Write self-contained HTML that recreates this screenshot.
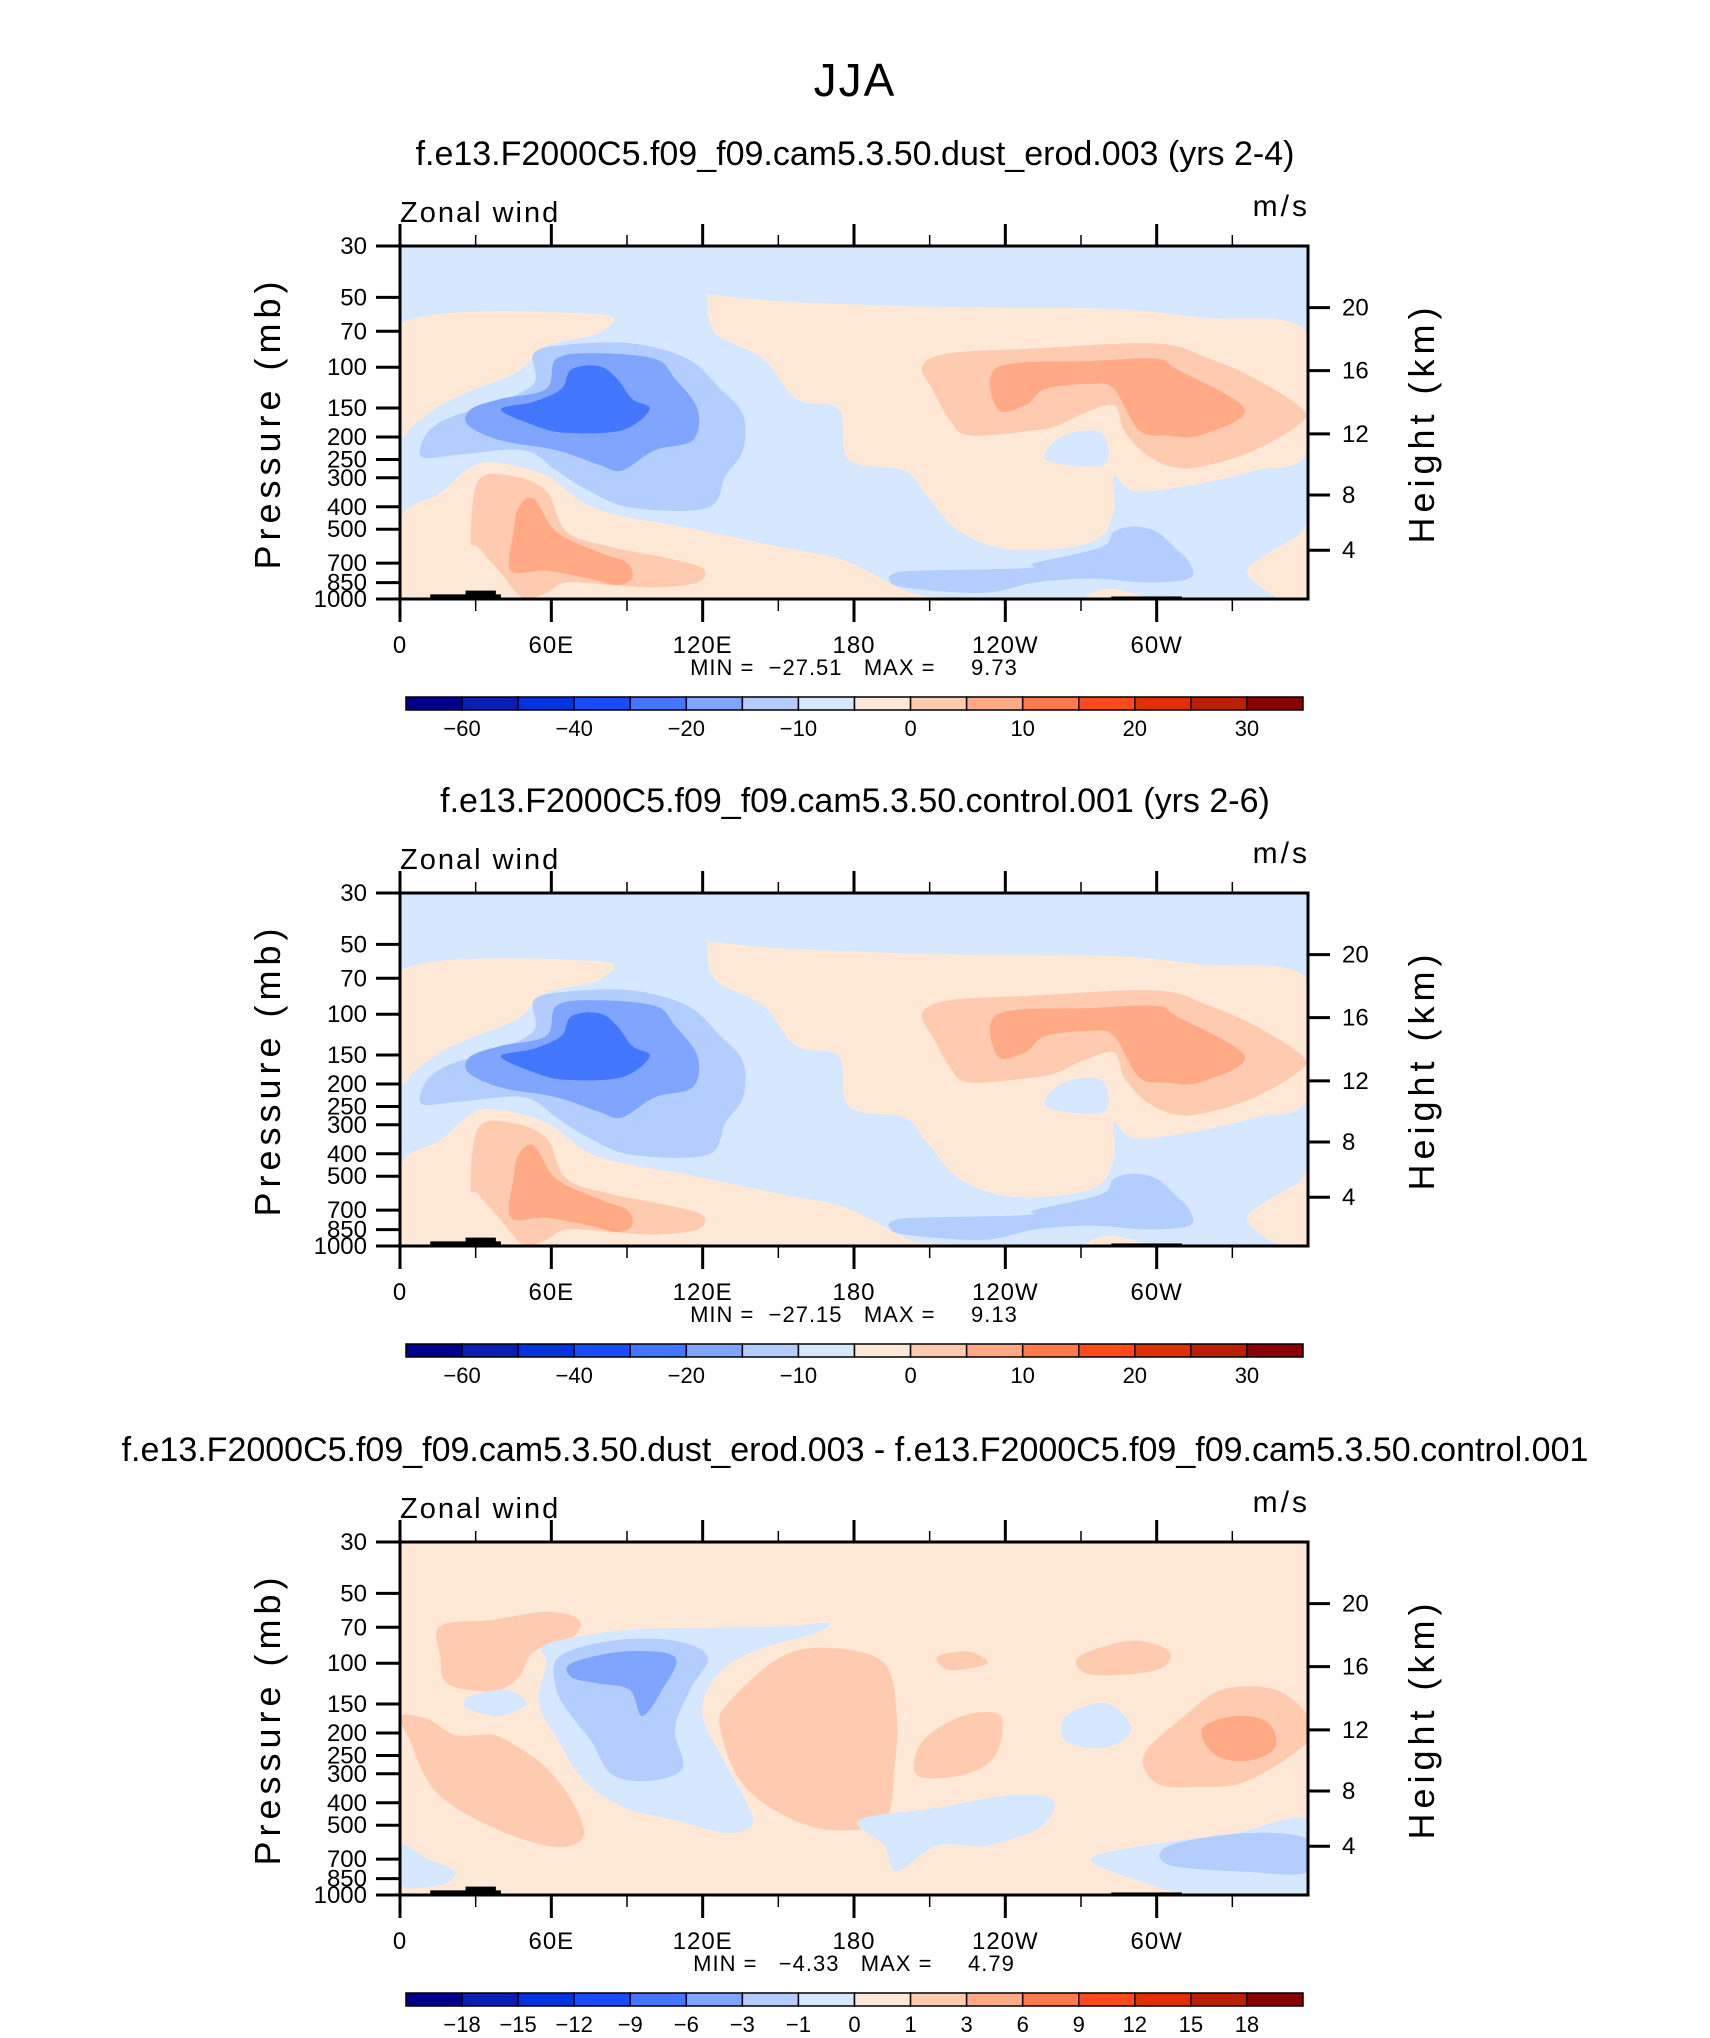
<!DOCTYPE html>
<html><head><meta charset="utf-8"><style>
html,body{margin:0;padding:0;background:#fff;}
svg{display:block;font-family:"Liberation Sans",sans-serif;}
</style></head><body>
<svg id="fig" width="1710" height="2038" viewBox="0 0 1710 2038" xmlns="http://www.w3.org/2000/svg">
<text x="855" y="96" font-size="46" text-anchor="middle" fill="#000" letter-spacing="2">JJA</text>
</svg>
<script>
// ---------- data ----------
const lonTicks = [0, 60, 120, 180, 240, 300];
const lonTickLabels = ["0", "60E", "120E", "180", "120W", "60W"];
const lonMinorTicks = [30, 90, 150, 210, 270, 330];
const pTicks = [30, 50, 70, 100, 150, 200, 250, 300, 400, 500, 700, 850, 1000];
const heightTicks = [4, 8, 12, 16, 20];
const heightTickPressure = [616, 356, 194, 103.5, 55.3];
const panelTitles = [
  "f.e13.F2000C5.f09_f09.cam5.3.50.dust_erod.003 (yrs 2-4)",
  "f.e13.F2000C5.f09_f09.cam5.3.50.control.001 (yrs 2-6)",
  "f.e13.F2000C5.f09_f09.cam5.3.50.dust_erod.003 - f.e13.F2000C5.f09_f09.cam5.3.50.control.001"
];
const panelMin = [-27.51, -27.15, -4.33];
const panelMax = [9.73, 9.13, 4.79];
const cbColors = ["#00008b","#0a1fb0","#0033e0","#1a4cff","#4477ff","#7fa5ff","#b3cdff","#d5e8ff",
                  "#ffe9d6","#ffcbb0","#ffaa85","#ff7a4a","#ff4a1a","#e03000","#b82000","#8b0000"];
const cbLabelsAbs = ["", "-60", "", "-40", "", "-20", "", "-10", "", "0", "", "10", "", "20", "", "30", ""];
const cbLabelsDiff = ["", "-18", "-15", "-12", "-9", "-6", "-3", "-1", "0", "1", "3", "6", "9", "12", "15", "18", ""];

// contour regions: [lon, pressure(hPa)] with colour index into cbColors
const absUpperLeftWarm = [[0,65],[78,59],[79,71],[58,81],[47,104],[27,128],[16,146],[6,175],[0,187]];
const absUpperWarm = [[122,50],[125,71],[144,92],[157,137],[174,152],[178,251],[200,279],[209,359],[222,513],[243,612],[274,569],[283,420],[283,294],[291,342],[313,324],[339,279],[360,228],[360,71],[317,61],[280,56],[213,55],[151,52],[125,49]];
const absPocket = [[256,251],[263,197],[278,192],[279,264]];
const absLowerWarm = [[0,451],[16,350],[27,275],[37,257],[58,294],[78,410],[115,496],[151,598],[176,680],[202,941],[213,1000],[0,1000]];
const absCornerWarm = [[336,774],[344,637],[357,525],[360,464],[360,1000],[349,1000]];
const absBottomWarm = [[272,1000],[280,905],[290,941],[295,1000]];
const absLowWarm2 = [[31,309],[44,294],[58,342],[66,513],[84,598],[105,663],[120,736],[118,848],[101,892],[84,870],[66,848],[58,941],[49,992],[40,774],[31,598],[28,554]];
const absUpWarm2 = [[207,99],[218,87],[252,83],[300,79],[321,92],[339,112],[358,152],[356,178],[339,228],[321,264],[308,272],[296,239],[287,187],[283,146],[270,160],[261,178],[252,187],[226,197],[218,169],[211,124]];
const absLowWarm3 = [[47,404],[53,369],[62,513],[79,629],[90,698],[92,816],[86,870],[75,816],[58,755],[44,755],[45,513]];
const absUpWarm3 = [[237,100],[274,94],[300,92],[308,102],[335,152],[317,197],[304,197],[293,187],[283,124],[274,118],[256,124],[248,146],[237,152]];
const absJet1 = [[53,87],[66,80],[92,79],[114,92],[127,124],[136,160],[136,228],[129,294],[122,404],[92,404],[75,342],[62,279],[49,228],[23,239],[9,245],[9,207],[14,178],[23,160],[36,146],[53,118]];
const absJet2 = [[62,92],[77,87],[101,92],[109,112],[118,152],[116,207],[101,228],[88,279],[79,264],[62,228],[40,207],[27,178],[28,152],[40,137],[58,124]];
const absJet3 = [[68,102],[79,99],[86,112],[92,137],[99,152],[88,187],[66,192],[53,178],[40,152],[53,141],[64,124]];
const absLowCold = [[196,774],[205,755],[248,736],[252,698],[278,598],[283,513],[291,487],[300,513],[308,612],[313,698],[313,816],[296,848],[274,816],[252,848],[231,941],[200,892],[194,826]];

const absRegions = [
  [8, absUpperLeftWarm],[8, absUpperWarm],[7, absPocket],[8, absLowerWarm],[8, absCornerWarm],[8, absBottomWarm],
  [9, absLowWarm2],[9, absUpWarm2],[10, absLowWarm3],[10, absUpWarm3],
  [6, absJet1],[5, absJet2],[4, absJet3],[6, absLowCold]
];
const diffRegions = [
  [9, [[16,69],[37,65],[58,60],[71,65],[68,78],[53,89],[47,115],[37,132],[19,123],[16,94]]],
  [9, [[0,169],[11,174],[22,204],[37,204],[47,231],[58,283],[68,389],[73,540],[68,612],[58,612],[42,540],[22,420],[11,322],[4,216]]],
  [9, [[130,149],[151,94],[171,86],[192,100],[197,169],[196,283],[192,476],[171,525],[151,446],[135,322],[127,192]]],
  [9, [[207,218],[223,169],[238,169],[236,251],[223,304],[205,304]]],
  [9, [[295,248],[311,169],[326,130],[347,130],[360,169],[360,218],[336,322],[316,342],[300,330]]],
  [9, [[269,94],[290,80],[305,89],[300,107],[274,112]]],
  [9, [[213,94],[225,89],[233,100],[218,107]]],
  [10, [[318,192],[331,169],[344,180],[347,231],[336,264],[323,248]]],
  [7, [[58,83],[89,72],[130,70],[156,69],[170,67],[165,74],[140,89],[125,115],[120,169],[130,283],[140,476],[130,540],[109,476],[89,420],[73,322],[63,218],[55,149],[58,100]]],
  [7, [[182,476],[213,420],[243,369],[259,390],[254,510],[233,612],[213,612],[197,790],[192,612]]],
  [7, [[295,612],[331,540],[360,476],[360,1000],[316,1000],[290,848],[274,698]]],
  [7, [[264,169],[280,149],[290,192],[280,231],[264,218]]],
  [7, [[27,140],[42,130],[50,149],[40,169],[27,158]]],
  [7, [[0,612],[11,698],[22,795],[16,905],[0,905]]],
  [6, [[63,94],[84,80],[109,80],[122,94],[115,130],[109,192],[112,283],[99,322],[84,302],[76,218],[68,169],[62,130]]],
  [6, [[305,612],[336,540],[360,577],[360,795],[336,795],[305,742]]],
  [5, [[68,100],[89,89],[109,94],[104,130],[96,169],[91,130],[78,122],[68,115]]]
];
const topoLon = [[12,40,955],[26,38,920],[282,310,975]];

// ---------- drawing ----------
const NS = "http://www.w3.org/2000/svg";
const svg = document.getElementById("fig");
const PL = 400, PW = 908, PH = 353;
const panelTops = [246, 893, 1542];
function mk(tag, attrs, parent){ const e=document.createElementNS(NS,tag); for(const k in attrs) e.setAttribute(k,attrs[k]); (parent||svg).appendChild(e); return e; }
function xs(lon){ return PL + lon/360*PW; }
function ys(p, T){ return T + Math.log(p/30)/Math.log(1000/30)*PH; }
function smoothPath(pts){
  const n=pts.length; let d="M"+pts[0][0].toFixed(1)+","+pts[0][1].toFixed(1);
  for(let i=0;i<n;i++){
    const p0=pts[(i-1+n)%n],p1=pts[i],p2=pts[(i+1)%n],p3=pts[(i+2)%n];
    const c1=[p1[0]+(p2[0]-p0[0])/6,p1[1]+(p2[1]-p0[1])/6];
    const c2=[p2[0]-(p3[0]-p1[0])/6,p2[1]-(p3[1]-p1[1])/6];
    d+="C"+c1[0].toFixed(1)+","+c1[1].toFixed(1)+" "+c2[0].toFixed(1)+","+c2[1].toFixed(1)+" "+p2[0].toFixed(1)+","+p2[1].toFixed(1);
  }
  return d+"Z";
}

panelTops.forEach((T, pi) => {
  const g = mk("g", {});
  
  
  const cid = "clip"+pi;
  const cp = mk("clipPath",{id:cid},g); mk("rect",{x:PL,y:T,width:PW,height:PH},cp);
  const bg = mk("rect",{x:PL,y:T,width:PW,height:PH,fill: pi<2 ? cbColors[7] : cbColors[8]},g);
  
  
  const cg = mk("g",{"clip-path":"url(#"+cid+")"},g);
  const regions = pi<2 ? absRegions : diffRegions;
  regions.forEach(r => {
    const pts = r[1].map(q => [xs(q[0]), ys(q[1], T)]);
    const path = mk("path",{d:smoothPath(pts), fill:cbColors[r[0]]},cg);
    
    
  });
  topoLon.forEach(t => {
    const tr = mk("rect",{x:xs(t[0]),y:ys(t[2],T),width:xs(t[1])-xs(t[0]),height:T+PH-ys(t[2],T),fill:"#000"},cg);
    
    
  });
  const fr = mk("rect",{x:PL,y:T,width:PW,height:PH,fill:"none",stroke:"#000","stroke-width":3},g);
  
  
  // x ticks
  lonTicks.forEach((lon,i) => {
    const x=xs(lon);
    mk("line",{x1:x,y1:T+PH,x2:x,y2:T+PH+23,stroke:"#000","stroke-width":3},g);
    mk("line",{x1:x,y1:T,x2:x,y2:T-22,stroke:"#000","stroke-width":3},g);
    const tl = mk("text",{x:x,y:T+407,"font-size":24,"text-anchor":"middle","letter-spacing":"1"},g); tl.textContent=lonTickLabels[i];
    
    
  });
  lonMinorTicks.forEach(lon => {
    const x=xs(lon);
    mk("line",{x1:x,y1:T+PH,x2:x,y2:T+PH+12,stroke:"#000","stroke-width":1.5},g);
    mk("line",{x1:x,y1:T,x2:x,y2:T-11,stroke:"#000","stroke-width":1.5},g);
  });
  // y ticks
  pTicks.forEach(p => {
    const y=ys(p,T);
    mk("line",{x1:PL-24,y1:y,x2:PL,y2:y,stroke:"#000","stroke-width":3},g);
    const tl = mk("text",{x:367,y:y+8,"font-size":24,"text-anchor":"end"},g); tl.textContent=String(p);
    
    
  });
  heightTicks.forEach((h,i) => {
    const y=ys(heightTickPressure[i],T);
    mk("line",{x1:PL+PW,y1:y,x2:PL+PW+22,y2:y,stroke:"#000","stroke-width":3},g);
    const tl = mk("text",{x:1342,y:y+8,"font-size":24},g); tl.textContent=String(h);
    
    
  });
  // labels
  const st = mk("text",{x:855,y:T-81,"font-size":34,"text-anchor":"middle"},g); st.textContent=panelTitles[pi];
  
  
  const zw = mk("text",{x:400,y:T-24,"font-size":29,"letter-spacing":"2"},g); zw.textContent="Zonal wind";
  
  
  const un = mk("text",{x:1310,y:T-30,"font-size":30,"text-anchor":"end","letter-spacing":"3"},g); un.textContent="m/s";
  
  
  const pl = mk("text",{x:0,y:0,"font-size":36,"text-anchor":"middle","letter-spacing":"5",transform:"translate(280,"+(T+177)+") rotate(-90)"},g); pl.textContent="Pressure (mb)";
  
  
  const hl = mk("text",{x:0,y:0,"font-size":36,"text-anchor":"middle","letter-spacing":"5",transform:"translate(1434,"+(T+177)+") rotate(-90)"},g); hl.textContent="Height (km)";
  
  
  const mm = mk("text",{x:854,y:T+429,"font-size":22,"text-anchor":"middle","letter-spacing":"1","xml:space":"preserve",style:"white-space:pre"},g);
  mm.textContent="MIN = "+panelMin[pi].toFixed(2).padStart(7," ").replace("-","\u2212")+"   MAX = "+panelMax[pi].toFixed(2).padStart(8," ");
  
  
  // colorbar
  const cbX=406, cbW=897, cbY=T+451, cbH=13, bw=cbW/cbColors.length;
  cbColors.forEach((c,i) => {
    const r = mk("rect",{x:cbX+i*bw,y:cbY,width:bw,height:cbH,fill:c,stroke:"#000","stroke-width":1.5},g);
    
    
  });
  const labs = pi<2 ? cbLabelsAbs : cbLabelsDiff;
  labs.forEach((l,i) => {
    if(!l) return;
    const t = mk("text",{x:cbX+i*bw,y:T+490,"font-size":22,"text-anchor":"middle"},g); t.textContent=l.replace("-","\u2212");
    
    
  });
});
</script>
</body></html>
